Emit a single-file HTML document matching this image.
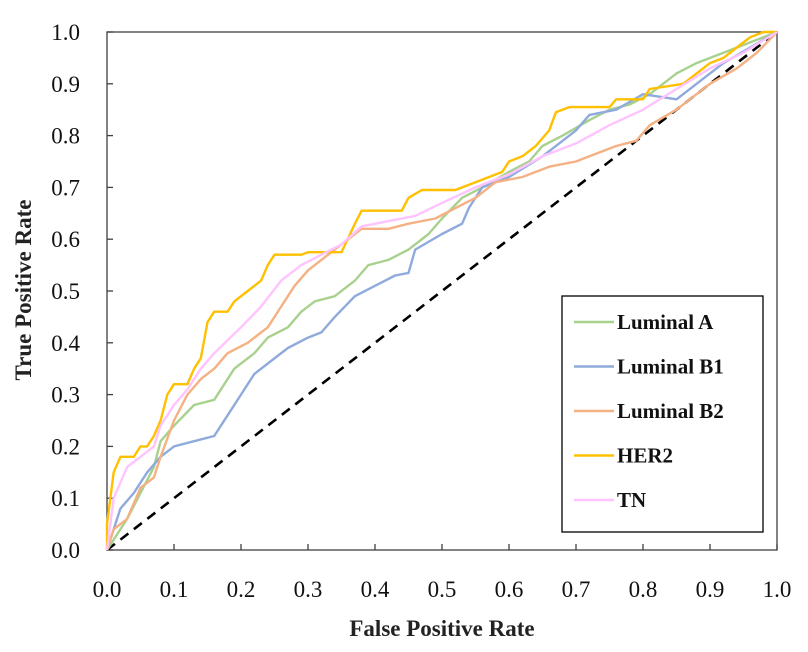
<!DOCTYPE html>
<html><head><meta charset="utf-8"><style>
html,body{margin:0;padding:0;background:#fff;}
svg{display:block;font-family:"Liberation Serif",serif;}
</style></head><body>
<svg id="chart" width="808" height="652" viewBox="0 0 808 652" xmlns="http://www.w3.org/2000/svg">
<g id="axes"></g><g id="series"></g><g id="legend"></g>
</svg>
<script>
const xTicks=["0.0","0.1","0.2","0.3","0.4","0.5","0.6","0.7","0.8","0.9","1.0"];
const yTicks=["0.0","0.1","0.2","0.3","0.4","0.5","0.6","0.7","0.8","0.9","1.0"];
const seriesNames=["Luminal A","Luminal B1","Luminal B2","HER2","TN"];
const seriesColors=["#a9d18e","#8faadc","#f4b183","#ffc000","#ffc4ff"];
const fprA=[0,0.01,0.03,0.05,0.07,0.08,0.1,0.13,0.16,0.19,0.22,0.24,0.27,0.29,0.31,0.34,0.37,0.39,0.42,0.45,0.48,0.5,0.53,0.56,0.6,0.63,0.65,0.68,0.72,0.75,0.78,0.81,0.85,0.88,0.92,0.96,1];
const tprA=[0,0.02,0.06,0.11,0.16,0.21,0.24,0.28,0.29,0.35,0.38,0.41,0.43,0.46,0.48,0.49,0.52,0.55,0.56,0.58,0.61,0.64,0.68,0.7,0.73,0.75,0.78,0.8,0.83,0.85,0.86,0.88,0.92,0.94,0.96,0.98,1];
const fprB1=[0,0.01,0.02,0.04,0.06,0.08,0.1,0.13,0.16,0.18,0.2,0.22,0.24,0.27,0.3,0.32,0.34,0.37,0.4,0.43,0.45,0.46,0.5,0.53,0.54,0.56,0.6,0.65,0.7,0.72,0.76,0.8,0.85,0.88,0.92,0.96,1];
const tprB1=[0,0.04,0.08,0.11,0.15,0.18,0.2,0.21,0.22,0.26,0.3,0.34,0.36,0.39,0.41,0.42,0.45,0.49,0.51,0.53,0.535,0.58,0.61,0.63,0.66,0.7,0.72,0.76,0.81,0.84,0.85,0.88,0.87,0.9,0.94,0.97,1];
const fprB2=[0,0.01,0.03,0.05,0.07,0.08,0.1,0.12,0.14,0.16,0.18,0.21,0.24,0.26,0.28,0.3,0.33,0.36,0.38,0.42,0.45,0.49,0.52,0.55,0.58,0.62,0.66,0.7,0.72,0.76,0.79,0.81,0.85,0.87,0.9,0.94,0.97,1];
const tprB2=[0,0.04,0.06,0.12,0.14,0.18,0.25,0.3,0.33,0.35,0.38,0.4,0.43,0.47,0.51,0.54,0.57,0.6,0.62,0.62,0.63,0.64,0.66,0.68,0.71,0.72,0.74,0.75,0.76,0.78,0.79,0.82,0.85,0.87,0.9,0.93,0.96,1];
const fprH=[0,0,0.01,0.02,0.04,0.05,0.06,0.07,0.08,0.09,0.1,0.12,0.13,0.14,0.15,0.16,0.18,0.19,0.21,0.23,0.24,0.25,0.29,0.3,0.35,0.37,0.38,0.44,0.45,0.47,0.52,0.55,0.59,0.6,0.62,0.64,0.66,0.67,0.69,0.75,0.76,0.8,0.81,0.86,0.88,0.9,0.92,0.94,0.96,0.98,1];
const tprH=[0,0.05,0.15,0.18,0.18,0.2,0.2,0.22,0.25,0.3,0.32,0.32,0.35,0.37,0.44,0.46,0.46,0.48,0.5,0.52,0.55,0.57,0.57,0.575,0.575,0.63,0.655,0.655,0.68,0.695,0.695,0.71,0.73,0.75,0.76,0.78,0.81,0.845,0.855,0.855,0.87,0.87,0.89,0.9,0.92,0.94,0.95,0.97,0.99,1,1];
const fprT=[0,0.01,0.03,0.05,0.07,0.08,0.1,0.12,0.14,0.16,0.2,0.23,0.26,0.29,0.32,0.35,0.38,0.42,0.46,0.5,0.55,0.6,0.65,0.7,0.75,0.8,0.85,0.9,0.95,1];
const tprT=[0,0.1,0.16,0.18,0.2,0.24,0.28,0.31,0.35,0.38,0.43,0.47,0.52,0.55,0.57,0.59,0.625,0.635,0.645,0.67,0.7,0.725,0.76,0.785,0.82,0.85,0.89,0.93,0.96,1];
const seriesX=[fprA,fprB1,fprB2,fprH,fprT];
const seriesY=[tprA,tprB1,tprB2,tprH,tprT];

const NS="http://www.w3.org/2000/svg";
const X0=107,X1=777,Y0=550,Y1=32;
const sx=v=>X0+(X1-X0)*v, sy=v=>Y0-(Y0-Y1)*v;
function mk(tag,attrs,parent){const e=document.createElementNS(NS,tag);for(const k in attrs)e.setAttribute(k,attrs[k]);parent.appendChild(e);return e;}
const axes=document.getElementById('axes');
const frame=mk('rect',{x:X0,y:Y1,width:X1-X0,height:Y0-Y1,fill:'none',stroke:'#404040','stroke-width':1.3},axes);


xTicks.forEach((t,i)=>{const v=i/(xTicks.length-1);
 const l=mk('line',{x1:sx(v),x2:sx(v),y1:Y0,y2:Y0-6,stroke:'#404040','stroke-width':1.3},axes);
 
 
 const tx=mk('text',{x:sx(v),y:597,'text-anchor':'middle','font-size':23,fill:'#111'},axes);tx.textContent=t;
 
 });
yTicks.forEach((t,i)=>{const v=i/(yTicks.length-1);
 const l=mk('line',{x1:X0,x2:X0+6,y1:sy(v),y2:sy(v),stroke:'#404040','stroke-width':1.3},axes);
 
 
 const tx=mk('text',{x:80,y:sy(v)+8,'text-anchor':'end','font-size':23,fill:'#111'},axes);tx.textContent=t;
 
 });
const xt=mk('text',{x:(X0+X1)/2,y:636,'text-anchor':'middle','font-size':23,'font-weight':'bold',fill:'#222'},axes);xt.textContent="False Positive Rate";


const yt=mk('text',{x:0,y:0,'text-anchor':'middle','font-size':23,'font-weight':'bold',fill:'#222',transform:`translate(31,290) rotate(-90)`},axes);yt.textContent="True Positive Rate";


const ser=document.getElementById('series');
const diag=mk('line',{x1:sx(0),y1:sy(0),x2:sx(1),y2:sy(1),stroke:'#000','stroke-width':2.6,'stroke-dasharray':'10,7'},ser);


seriesNames.forEach((n,i)=>{const xs=seriesX[i],ys=seriesY[i];
 const pts=xs.map((x,j)=>sx(x).toFixed(1)+','+sy(ys[j]).toFixed(1)).join(' ');
 const p=mk('polyline',{points:pts,fill:'none',stroke:seriesColors[i],'stroke-width':2.4,'stroke-linejoin':'round'},ser);
 
 });
const lg=document.getElementById('legend');
const box=mk('rect',{x:562,y:296,width:201,height:236,fill:'#fff',stroke:'#000','stroke-width':1.3},lg);


seriesNames.forEach((n,i)=>{const y=322+i*44.5;
 const l=mk('line',{x1:574,x2:614,y1:y,y2:y,stroke:seriesColors[i],'stroke-width':2.4},lg);
 
 
 const t=mk('text',{x:617,y:y+7,'font-size':21,'font-weight':'bold',fill:'#111'},lg);t.textContent=n;
 
 });
</script>
</body></html>
